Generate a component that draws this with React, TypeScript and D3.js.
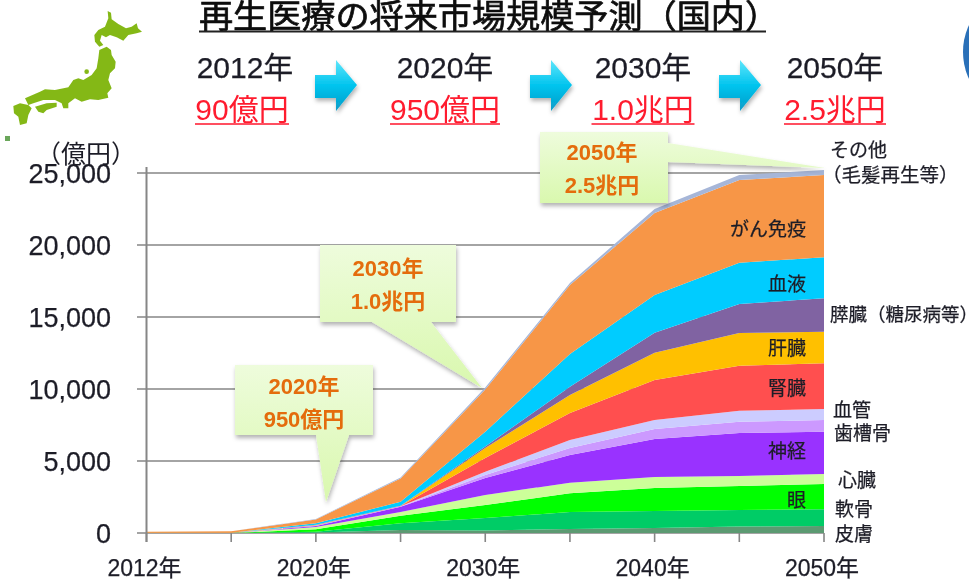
import React from "react";
import * as d3 from "d3";

const years = ["2012年", "2015年", "2020年", "2025年", "2030年", "2035年", "2040年", "2045年", "2050年"];
const labelledYears = ["2012年", "2020年", "2030年", "2040年", "2050年"];
const yTicks = [0, 5000, 10000, 15000, 20000, 25000];

const seriesNames = ["皮膚", "軟骨", "眼", "心臓", "神経", "歯槽骨", "血管", "腎臓", "肝臓", "膵臓", "血液", "がん免疫", "その他"];
const skin = [0, 0, 35, 208, 174, 278, 347, 444, 486];
const cartilage = [0, 0, 55, 466, 868, 1180, 1181, 1153, 1160];
const eye = [0, 0, 167, 527, 902, 1299, 1597, 1667, 1757];
const heart = [0, 0, 160, 257, 695, 736, 764, 694, 694];
const nerve = [2, 2, 69, 368, 1180, 1924, 2639, 2986, 2938];
const alveolar = [2, 2, 21, 14, 209, 486, 694, 785, 812];
const vessel = [2, 2, 13, 14, 229, 555, 625, 764, 764];
const kidney = [2, 2, 15, 14, 951, 1875, 2778, 3125, 3174];
const liver = [2, 2, 21, 14, 695, 1250, 1896, 2271, 2194];
const pancreas = [2, 2, 20, 14, 104, 577, 1389, 2014, 2320];
const blood = [3, 5, 98, 278, 1028, 2271, 2618, 2868, 2847];
const cancer = [70, 100, 264, 1611, 2930, 4791, 5694, 5743, 5715];
const other = [5, 8, 34, 69, 139, 139, 278, 347, 347];
const seriesValues = [skin, cartilage, eye, heart, nerve, alveolar, vessel, kidney, liver, pancreas, blood, cancer, other];
const seriesColors = ["#5c9a72", "#00cc66", "#00ff00", "#ccff99", "#9933ff", "#cc99ff", "#ccccff", "#ff5050", "#ffc000", "#8064a2", "#00ccff", "#f79646", "#a6b6d8"];

const headerYears = ["2012年", "2020年", "2030年", "2050年"];
const headerAmounts = ["90億円", "950億円", "1.0兆円", "2.5兆円"];

const FONT = '"Liberation Sans", "Noto Sans CJK JP", sans-serif';
const TXT = "#1e1e28";

const x = d3.scalePoint<string>().domain(years).range([146.5, 824]);
const y = d3.scaleLinear().domain([0, 25000]).range([533, 173]);

const rows = years.map((yr, i) => {
  const r: Record<string, number | string> = { yr };
  seriesNames.forEach((n, k) => (r[n] = seriesValues[k][i]));
  return r;
});
const stacked = d3.stack<any>().keys(seriesNames)(rows as any);
const area = d3
  .area<any>()
  .x((d) => x(d.data.yr) as number)
  .y0((d) => y(d[0]))
  .y1((d) => y(d[1]));

const ARROW = "M0 15 L21 15 L21 0 L42 25 L21 51 L21 38 L0 38 Z";

const Callout = ({ d, lines, cx, base }: { d: string; lines: string[]; cx: number; base: number }) => (
  <g>
    <path d={d} fill="url(#callout)" filter="url(#shadow)" />
    {lines.map((t, i) => (
      <text key={t} x={cx} y={base + i * 33} textAnchor="middle" fontSize={22} fontWeight={700} fill="#e46c0a">
        {t}
      </text>
    ))}
  </g>
);

const Label = ({ t, x: lx, y: ly, size = 18, anchor = "start" }: any) => (
  <text x={lx} y={ly} fontSize={size} textAnchor={anchor} fill={TXT} stroke={TXT} strokeWidth={0.25}>
    {t}
  </text>
);

export default function App() {
  return (
    <svg
      width={969}
      height={580}
      viewBox="0 0 969 580"
      style={{ position: "absolute", left: 0, top: 0, background: "#fff" }}
      fontFamily={FONT}
    >
      <defs>
        <linearGradient id="callout" x1="0" y1="0" x2="0" y2="1">
          <stop offset="0" stopColor="#eefcdc" />
          <stop offset="1" stopColor="#d9f8ae" />
        </linearGradient>
        <linearGradient id="arrow" x1="0" y1="0" x2="0" y2="1">
          <stop offset="0" stopColor="#5fe6fb" />
          <stop offset="0.5" stopColor="#00c4ee" />
          <stop offset="1" stopColor="#0a9cc8" />
        </linearGradient>
        <filter id="shadow" x="-10%" y="-10%" width="125%" height="125%">
          <feDropShadow dx="1" dy="3" stdDeviation="2" floodColor="#000" floodOpacity="0.3" />
        </filter>
        <filter id="soft" x="-2%" y="-2%" width="104%" height="104%">
          <feGaussianBlur stdDeviation="0.45" />
        </filter>
      </defs>

      <g filter="url(#soft)">
        {/* Japan map */}
        <g fill="#84b818" transform="scale(0.3333)">
          <path d="M323 33 L333 38 L335 58 L355 72 L378 85 L395 80 L410 70 L414 85 L426 95 L410 100 L385 105 L370 122 L350 112 L330 105 L318 112 L305 105 L300 122 L310 135 L298 140 L285 125 L283 105 L295 90 L315 80 L325 55 Z" />
          <path d="M298 150 L320 140 L333 150 L335 165 L347 185 L345 205 L330 220 L325 240 L335 265 L322 280 L325 293 L295 300 L270 298 L245 305 L225 295 L205 310 L205 325 L190 325 L185 310 L165 300 L130 300 L100 310 L85 315 L75 295 L120 275 L135 268 L165 270 L205 262 L220 240 L235 235 L250 240 L275 225 L290 205 L295 175 Z" />
          <path d="M105 320 L140 310 L170 308 L170 320 L140 330 L130 340 L115 335 Z" />
          <path d="M40 318 L60 310 L85 315 L95 325 L85 345 L80 370 L60 375 L55 350 L42 340 Z" />
          <circle cx="260" cy="215" r="7" />
          <rect x="15" y="408" width="15" height="15" fill="#6aa65a" />
        </g>
        <circle cx="1027" cy="52" r="64" fill="#2a70b8" />

        {/* Title */}
        <text x={199} y={28} fontSize={33} fill="#111" stroke="#111" strokeWidth={0.7} textLength={580} lengthAdjust="spacingAndGlyphs">
          再生医療の将来市場規模予測（国内）
        </text>
        <line x1={199} x2={766} y1={31.5} y2={31.5} stroke="#222" strokeWidth={2} />

        {/* Header */}
        {headerYears.map((t, i) => {
          const cx = [245, 445, 643, 835][i];
          const ax = [242, 445, 643, 835][i];
          const w = [94, 110, 103, 102][i];
          return (
            <g key={t}>
              <text x={cx} y={78} fontSize={30} textAnchor="middle" fill={TXT} stroke={TXT} strokeWidth={0.25}>
                {t}
              </text>
              <text x={ax} y={120} fontSize={30} textAnchor="middle" fill="#ff1a2e">
                {headerAmounts[i]}
              </text>
              <line x1={ax - w / 2} x2={ax + w / 2} y1={124} y2={124} stroke="#ff5060" strokeWidth={2} />
            </g>
          );
        })}
        {[315, 530, 719].map((ax) => (
          <path key={ax} d={ARROW} transform={`translate(${ax},60)`} fill="url(#arrow)" filter="url(#shadow)" />
        ))}

        {/* Grid and baseline */}
        {yTicks.map((t) => (
          <line key={t} x1={137} x2={824} y1={y(t)} y2={y(t)} stroke="#868686" strokeWidth={1.6} />
        ))}
        {/* Areas */}
        {stacked.map((s, i) => (
          <path key={s.key} d={area(s as any) as string} fill={seriesColors[i]} />
        ))}
        {/* Axes */}
        <line x1={146.5} x2={146.5} y1={167} y2={542} stroke="#868686" strokeWidth={2} />
        {years.map((yr) => (
          <line key={yr} x1={x(yr)} x2={x(yr)} y1={533} y2={542} stroke="#868686" strokeWidth={1.6} />
        ))}
        {yTicks.map((t) => (
          <text key={t} x={111} y={y(t) + 10} fontSize={27} textAnchor="end" fill={TXT} stroke={TXT} strokeWidth={0.25}>
            {d3.format(",")(t)}
          </text>
        ))}
        {labelledYears.map((yr) => (
          <text key={yr} x={(x(yr) as number) - 2} y={576} fontSize={23} textAnchor="middle" fill={TXT} stroke={TXT} strokeWidth={0.25}>
            {yr}
          </text>
        ))}
        <text x={36} y={163} fontSize={25} fill={TXT}>
          （億円）
        </text>

        {/* Series labels */}
        <Label t="がん免疫" x={806} y={236} size={19} anchor="end" />
        <Label t="血液" x={806} y={291} size={19} anchor="end" />
        <Label t="肝臓" x={806} y={355} size={19} anchor="end" />
        <Label t="腎臓" x={806} y={395} size={19} anchor="end" />
        <Label t="神経" x={806} y={458} size={19} anchor="end" />
        <Label t="眼" x={806} y={507} size={19} anchor="end" />
        <Label t="その他" x={830} y={157} size={19} />
        <Label t="（毛髪再生等）" x={822} y={182} size={19.5} />
        <Label t="膵臓（糖尿病等）" x={830} y={321} size={18.5} />
        <Label t="血管" x={833} y={417} size={19} />
        <Label t="歯槽骨" x={834} y={440} size={19} />
        <Label t="心臓" x={838} y={487} size={19} />
        <Label t="軟骨" x={835} y={516} size={19} />
        <Label t="皮膚" x={835} y={541} size={19} />

        {/* Callouts */}
        <Callout d="M235 365 H373 V435 H349 L326 502 L316 435 H235 Z" lines={["2020年", "950億円"]} cx={304} base={394} />
        <Callout d="M320 245 H456 V322 H431 L482 388 L372 322 H320 Z" lines={["2030年", "1.0兆円"]} cx={388} base={276} />
        <Callout d="M540 132 H668 V143 L825 168 L668 162 V203 H540 Z" lines={["2050年", "2.5兆円"]} cx={602} base={160} />
      </g>
    </svg>
  );
}
